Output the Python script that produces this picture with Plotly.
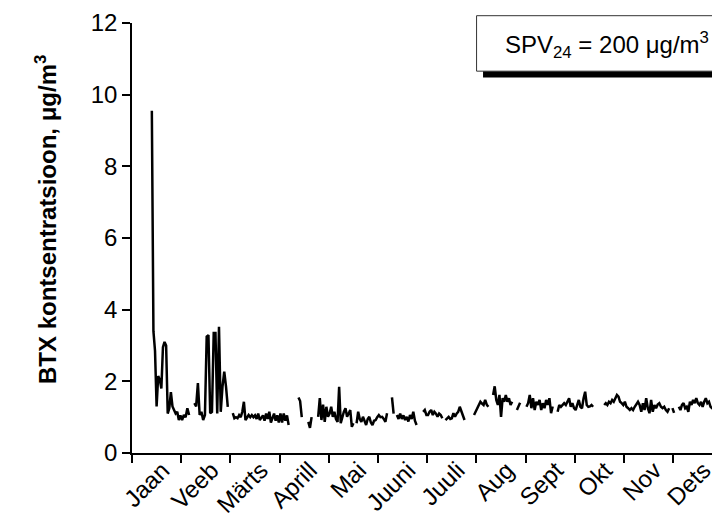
import plotly.graph_objects as go

# Month labels
months = ["Jaan", "Veeb", "Märts", "Aprill", "Mai", "Juuni", "Juuli", "Aug", "Sept", "Okt", "Nov", "Dets"]

# Daily BTX concentration (µg/m3), one list per month, None = missing day
jan = [None] * 12 + [9.55, 3.4, 2.85, 1.3, 2.15, 2.05, 1.8, 2.95, 3.1, 3.0, 1.1, 1.25, 1.7,
                     1.3, 1.2, 1.1, 1.15, 0.92, 1.05]
feb = [0.92, 1.06, 1.0, 1.25, 1.06, None, None, 1.39, 1.3, 1.95, 1.06, 1.15, 0.92, 1.06,
       3.25, 3.29, 1.11, 1.15, 3.35, 3.35, 1.1, 3.52, 1.15, 1.85, 2.27, 1.85, 1.29, None]
mar = [None, 1.11, 0.97, 1.0, 0.97, 1.06, 1.0, 1.15, 1.43, 0.92, 1.0, 1.06, 1.0, 1.06, 1.0,
       1.05, 0.95, 1.1, 0.92, 1.0, 1.05, 0.9, 1.1, 0.95, 1.15, 0.85, 1.0, 1.1, 0.9, 1.05, 0.85]
apr = [1.1, 0.85, 1.1, 0.9, 1.05, 0.78, None, None, None, None, None, 1.55, 1.45, 1.0,
       None, None, None, 0.87, 0.7, 1.0, None, None, None, 1.01, 1.53, 0.92, 1.35, 0.87, 1.29, 1.01]
may = [1.1, 1.29, 1.01, 1.15, 0.95, 0.87, 1.85, 0.83, 1.0, 1.15, 1.25, 1.01, 1.1, 1.2, 0.73,
       0.83, None, 0.83, 1.15, 0.95, 0.87, 1.01, 0.9, 0.78, 0.95, 1.01, 0.85, 0.78, 0.9, 0.92, 1.0]
jun = [1.06, 1.0, 1.01, 0.95, 0.87, 1.11, None, None, 1.55, 1.1, None, 1.06, 0.95, 1.1, 0.95,
       1.05, 0.92, 1.01, 0.88, 1.06, 0.95, 1.15, 0.9, 0.78, None, None, None, 1.15, 1.2, 1.06]
jul = [1.06, 1.15, 1.2, 1.06, 1.15, 1.1, 1.01, 1.1, 1.06, 0.97, None, 0.92, 0.97, 1.01, 0.95,
       0.97, 1.11, 1.01, 1.1, 1.15, 1.29, 1.15, 1.01, 0.92, None, None, None, None, None, 1.06, 1.15]
aug = [1.25, 1.35, 1.43, 1.38, 1.34, 1.48, 1.35, 1.29, None, None, 1.62, 1.86, 1.48, 1.34,
       1.62, 1.01, 1.53, 1.43, 1.62, 1.43, 1.53, 1.34, 1.43, None, None, 1.2, 1.3, 1.4,
       None, None, None]
sep = [1.29, 1.39, 1.62, 1.25, 1.53, 1.2, 1.43, 1.34, 1.48, 1.2, 1.39, 1.25, 1.48, 1.34, 1.53,
       1.11, 1.3, None, None, 1.15, 1.34, 1.29, 1.35, 1.39, 1.34, 1.45, 1.53, 1.29, 1.39, 1.25]
okt = [1.2, 1.34, 1.48, 1.29, 1.25, 1.53, 1.71, 1.34, 1.29, 1.3, 1.34, 1.29, None, None, None,
       None, None, None, 1.34, 1.39, 1.34, 1.43, 1.39, 1.48, 1.43, 1.53, 1.62, 1.57, 1.43, 1.39, 1.34]
nov = [1.43, 1.29, 1.25, 1.2, 1.25, 1.2, 1.29, 1.35, 1.43, 1.34, 1.15, 1.39, 1.2, 1.53, 1.25,
       1.11, 1.48, 1.15, 1.34, 1.25, 1.35, 1.39, 1.29, 1.25, 1.29, 1.2, 1.15, 1.25, None, 1.25]
dets = [1.12, None, None, 1.29, 1.2, 1.34, 1.39, 1.25, 1.29, 1.15, 1.43, 1.34, 1.48, 1.39, 1.53,
        1.39, 1.34, 1.43, 1.29, 1.43, 1.53, 1.39, 1.43, 1.29, 1.25, 1.3, None, 1.2, 1.34, 1.3, 1.25]

month_data = [jan, feb, mar, apr, may, jun, jul, aug, sep, okt, nov, dets]

x, y = [], []
for m, vals in enumerate(month_data):
    n = len(vals)
    for i, v in enumerate(vals):
        x.append(m + (i + 0.5) / n)
        y.append(v)

FONT = "Arial, Liberation Sans, sans-serif"

fig = go.Figure()
fig.add_trace(go.Scatter(x=x, y=y, mode="lines", connectgaps=False,
                         line=dict(color="black", width=2.5), showlegend=False))

# page body has an 8px margin: size the figure so it ends at the window edge
fig.update_layout(
    width=712, height=514,
    margin=dict(l=124, r=0, t=15, b=69),
    paper_bgcolor="white", plot_bgcolor="white",
    font=dict(family=FONT, color="black", size=24),
    xaxis=dict(
        range=[0, 11.95], showgrid=False, zeroline=False, automargin=False,
        showline=True, linecolor="black", linewidth=1.5,
        tickmode="array", tickvals=[k + 0.62 for k in range(12)], ticktext=months,
        tickangle=-45, ticks="", ticklabelstandoff=-8,
        tickfont=dict(size=24, family=FONT),
        minor=dict(tickmode="linear", tick0=0, dtick=1, ticks="outside",
                   ticklen=8, tickwidth=1.5, tickcolor="black"),
    ),
    yaxis=dict(
        range=[0, 12], dtick=2, showgrid=False, zeroline=False, automargin=False,
        showline=True, linecolor="black", linewidth=1.5,
        ticks="outside", ticklen=8, tickwidth=1.5, tickcolor="black",
        tickfont=dict(size=24, family=FONT),
    ),
)

# y-axis title
fig.add_annotation(xref="paper", yref="paper", x=-0.175, y=0.542, textangle=-90,
                   text="<b>BTX kontsentratsioon, μg/m<sup>3</sup></b>",
                   showarrow=False, font=dict(size=24, family=FONT))

# limit-value box with shadow
fig.add_shape(type="rect", xref="paper", yref="paper", x0=0.597, x1=1.1, y0=0.873, y1=0.889,
              fillcolor="black", line=dict(width=0), layer="above")
fig.add_shape(type="rect", xref="paper", yref="paper", x0=0.586, x1=1.1, y0=0.888, y1=1.017,
              fillcolor="white", line=dict(color="#333", width=1), layer="above")
fig.add_annotation(xref="paper", yref="paper", x=0.631, y=0.95, xanchor="left", yanchor="middle",
                   text="SPV<sub>24</sub> = 200 μg/m<sup>3</sup>",
                   showarrow=False, font=dict(size=24, family=FONT))

fig.write_html("out.html")
